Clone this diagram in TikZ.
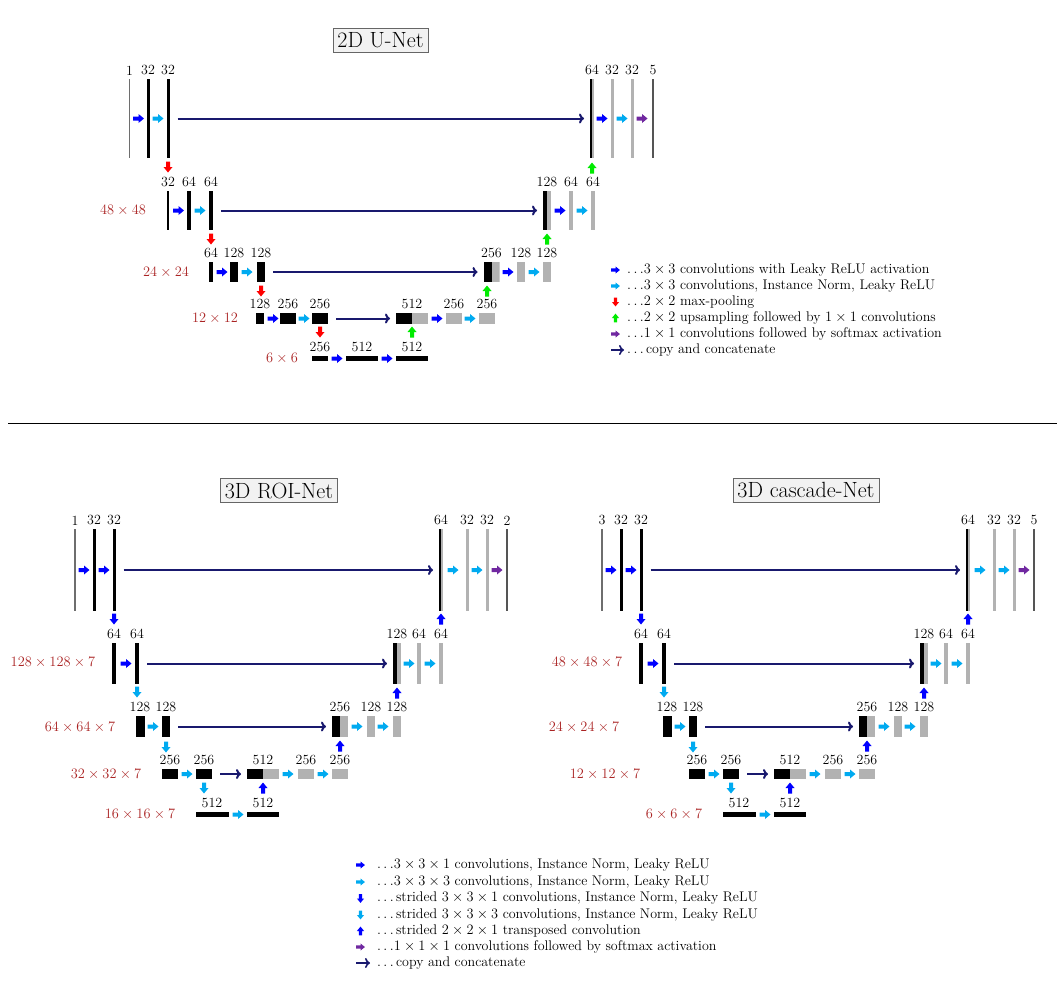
\documentclass[tikz,border=0pt]{standalone}
\usepackage{tikz}
\usetikzlibrary{arrows.meta}
\definecolor{cblue}{RGB}{0,0,255}
\definecolor{ccyan}{RGB}{0,170,240}
\definecolor{cred}{RGB}{255,0,0}
\definecolor{cgreen}{RGB}{0,235,0}
\definecolor{cpurple}{RGB}{112,40,160}
\definecolor{navy}{RGB}{25,25,110}
\definecolor{szred}{RGB}{170,35,35}
\definecolor{barGray}{RGB}{178,178,178}
\definecolor{thinGray}{RGB}{110,110,110}
\definecolor{darkGray}{RGB}{85,85,85}
\newcommand\numsize{\fontsize{14}{16}\selectfont}
\newcommand\titlesize{\fontsize{22}{26}\selectfont}
\newcommand\dts{$\ldots$}
\tikzset{
 lay/.style={rectangle, inner sep=0pt, outer sep=0pt, draw=none, minimum width=#1},
 blk/.style={lay=#1, fill=black},
 gry/.style={lay=#1, fill=barGray},
 inl/.style={lay=1.2pt, fill=thinGray},
 outl/.style={lay=1.4pt, fill=darkGray},
 cat/.style={lay=#1, path picture={
   \fill[black] (path picture bounding box.south west) rectangle (path picture bounding box.north);
   \fill[barGray] (path picture bounding box.south) rectangle (path picture bounding box.north east);}},
 ht/.style={minimum height=#1},
 num/.style={font=\numsize, inner sep=0pt},
 every label/.style={num},
 label distance=3.8pt,
 szl/.style={font=\numsize, text=szred, inner sep=0pt},
 cpy/.style={draw=navy, line width=2pt, -{To[length=5pt,width=10pt]}, shorten <=8pt, shorten >=6pt},
 ttl/.style={draw=gray!80!black, fill=gray!10, font=\titlesize, inner sep=4.5pt, line width=0.8pt},
 leg/.style={font=\numsize, anchor=west, inner sep=0pt},
 rarr/.pic={\fill (-5.5,-2) -- (0,-2) -- (0,-4.5) -- (5.5,0) -- (0,4.5) -- (0,2) -- (-5.5,2) -- cycle;},
 darr/.pic={\fill (-2,-5.5) -- (-2,0) -- (-4.5,0) -- (0,5.5) -- (4.5,0) -- (2,0) -- (2,-5.5) -- cycle;},
 uarr/.pic={\fill (-2,5.5) -- (-2,0) -- (-4.5,0) -- (0,-5.5) -- (4.5,0) -- (2,0) -- (2,5.5) -- cycle;},
}
\newcommand\threednet[5]{%
\begin{scope}[xshift=#2pt, name prefix=#1-]
\node[ttl] (ttl) at (279,490.5) {#3};
% level 0
\node[inl, ht=82pt, label=above:#4] (p1) at (75,570) {};
\node[blk=3pt, ht=82pt, label=above:32] (p2) at (94,570) {};
\node[blk=3pt, ht=82pt, label=above:32] (p3) at (114,570) {};
\node[cat=4pt, ht=82pt, label=above:64] (p4) at (441,570) {};
\node[gry=3pt, ht=82pt, label=above:32] (p5) at (467,570) {};
\node[gry=3pt, ht=82pt, label=above:32] (p6) at (487,570) {};
\node[outl, ht=82pt, label=above:#5] (p7) at (507,570) {};
\pic[cblue] at (84,570) {rarr};
\pic[cblue] at (104,570) {rarr};
\pic[ccyan] at (453,570) {rarr};
\pic[ccyan] at (477,570) {rarr};
\pic[cpurple] at (497,570) {rarr};
\draw[cpy] (p3) -- (p4);
\pic[cblue] at (114,619) {darr};
\pic[cblue] at (441,619) {uarr};
% level 1
\node[blk=4pt, ht=41pt, label=above:64] (q1) at (114,663.5) {};
\node[blk=4pt, ht=41pt, label=above:64] (q2) at (137,663.5) {};
\node[cat=8pt, ht=41pt, label=above:128] (q3) at (397,663.5) {};
\node[gry=4pt, ht=41pt, label=above:64] (q4) at (419,663.5) {};
\node[gry=4pt, ht=41pt, label=above:64] (q5) at (441,663.5) {};
\pic[cblue] at (126,663.5) {rarr};
\pic[ccyan] at (409,663.5) {rarr};
\pic[ccyan] at (430,663.5) {rarr};
\draw[cpy] (q2) -- (q3);
\pic[ccyan] at (137,692) {darr};
\pic[cblue] at (397,693) {uarr};
% level 2
\node[blk=9pt, ht=21pt, label=above:128] (s1) at (140,726.5) {};
\node[blk=8.5pt, ht=21pt, label=above:128] (s2) at (166,726.5) {};
\node[cat=16pt, ht=21pt, label=above:256] (s3) at (340,726.5) {};
\node[gry=8pt, ht=21pt, label=above:128] (s4) at (371,726.5) {};
\node[gry=8pt, ht=21pt, label=above:128] (s5) at (397,726.5) {};
\pic[ccyan] at (153,726.5) {rarr};
\pic[ccyan] at (357,726.5) {rarr};
\pic[ccyan] at (383,726.5) {rarr};
\draw[cpy] (s2) -- (s3);
\pic[ccyan] at (166,747) {darr};
\pic[cblue] at (340,746) {uarr};
% level 3
\node[blk=16pt, ht=10pt, label=above:256] (t1) at (170,774) {};
\node[blk=16pt, ht=10pt, label=above:256] (t2) at (204,774) {};
\node[cat=32pt, ht=10pt, label=above:512] (t3) at (263,774) {};
\node[gry=16pt, ht=10pt, label=above:256] (t4) at (306,774) {};
\node[gry=16pt, ht=10pt, label=above:256] (t5) at (340,774) {};
\pic[ccyan] at (187,774) {rarr};
\pic[ccyan] at (288,774) {rarr};
\pic[ccyan] at (323,774) {rarr};
\draw[cpy] (t2) -- (t3);
\pic[ccyan] at (204,788) {darr};
\pic[cblue] at (263,788) {uarr};
% level 4
\node[blk=33pt, ht=5pt, label=above:512] (u1) at (212,814.5) {};
\node[blk=32pt, ht=5pt, label=above:512] (u2) at (263,814.5) {};
\pic[ccyan] at (238,814.5) {rarr};
\end{scope}}
\begin{document}
\begin{tikzpicture}[x=1pt,y=-1pt]
\useasboundingbox (0,0) rectangle (1057,983);
% ================= 2D U-Net =================
\node[ttl] (t2d) at (380.5,40.5) {2D U-Net};
% level 0
\node[inl, ht=79pt, label=above:1] (a1) at (129.5,118.5) {};
\node[blk=3pt, ht=79pt, label=above:32] (a2) at (148,118.5) {};
\node[blk=3pt, ht=79pt, label=above:32] (a3) at (168,118.5) {};
\node[cat=4pt, ht=79pt, label=above:64] (a4) at (592,118.5) {};
\node[gry=3pt, ht=79pt, label=above:32] (a5) at (612,118.5) {};
\node[gry=3pt, ht=79pt, label=above:32] (a6) at (632,118.5) {};
\node[outl, ht=79pt, label=above:5] (a7) at (653,118.5) {};
\pic[cblue] at (138.5,118.5) {rarr};
\pic[ccyan] at (158,118.5) {rarr};
\pic[cblue] at (602,118.5) {rarr};
\pic[ccyan] at (622,118.5) {rarr};
\pic[cpurple] at (642,118.5) {rarr};
\draw[cpy] (a3) -- (a4);
\pic[cred] at (168,167) {darr};
\pic[cgreen] at (592,168) {uarr};
% level 1
\node[szl] (s48) at (123,210.5) {$48\times48$};
\node[blk=2.5pt, ht=39pt, label=above:32] (b1) at (168,210.5) {};
\node[blk=4pt, ht=39pt, label=above:64] (b2) at (189,210.5) {};
\node[blk=4pt, ht=39pt, label=above:64] (b3) at (211,210.5) {};
\node[cat=8pt, ht=39pt, label=above:128] (b4) at (547,210.5) {};
\node[gry=4pt, ht=39pt, label=above:64] (b5) at (571,210.5) {};
\node[gry=4pt, ht=39pt, label=above:64] (b6) at (593,210.5) {};
\pic[cblue] at (178.5,210.5) {rarr};
\pic[ccyan] at (200,210.5) {rarr};
\pic[cblue] at (560,210.5) {rarr};
\pic[ccyan] at (582,210.5) {rarr};
\draw[cpy] (b3) -- (b4);
\pic[cred] at (211,239) {darr};
\pic[cgreen] at (547,239) {uarr};
% level 2
\node[szl] (s24) at (166,272) {$24\times24$};
\node[blk=4pt, ht=20pt, label=above:64] (c1) at (211,272) {};
\node[blk=8.5pt, ht=20pt, label=above:128] (c2) at (234,272) {};
\node[blk=8.5pt, ht=20pt, label=above:128] (c3) at (261,272) {};
\node[cat=16pt, ht=20pt, label=above:256] (c4) at (491.5,272) {};
\node[gry=8pt, ht=20pt, label=above:128] (c5) at (521,272) {};
\node[gry=8pt, ht=20pt, label=above:128] (c6) at (547,272) {};
\pic[cblue] at (222,272) {rarr};
\pic[ccyan] at (247,272) {rarr};
\pic[cblue] at (508,272) {rarr};
\pic[ccyan] at (534,272) {rarr};
\draw[cpy] (c3) -- (c4);
\pic[cred] at (261,291) {darr};
\pic[cgreen] at (487,291) {uarr};
% level 3
\node[szl] (s12) at (215,318.5) {$12\times12$};
\node[blk=8.5pt, ht=11pt, label=above:128] (d1) at (260,318.5) {};
\node[blk=16pt, ht=11pt, label=above:256] (d2) at (288,318.5) {};
\node[blk=16pt, ht=11pt, label=above:256] (d3) at (320,318.5) {};
\node[cat=32pt, ht=11pt, label=above:512] (d4) at (412,318.5) {};
\node[gry=16pt, ht=11pt, label=above:256] (d5) at (454,318.5) {};
\node[gry=16pt, ht=11pt, label=above:256] (d6) at (487,318.5) {};
\pic[cblue] at (273,318.5) {rarr};
\pic[ccyan] at (304,318.5) {rarr};
\pic[cblue] at (437,318.5) {rarr};
\pic[ccyan] at (470,318.5) {rarr};
\draw[cpy] (d3) -- (d4);
\pic[cred] at (320,332) {darr};
\pic[cgreen] at (412,332) {uarr};
% level 4
\node[szl] (s6) at (282,358.5) {$6\times6$};
\node[blk=16pt, ht=5pt, label=above:256] (e1) at (320,358.5) {};
\node[blk=32pt, ht=5pt, label=above:512] (e2) at (362,358.5) {};
\node[blk=32pt, ht=5pt, label=above:512] (e3) at (412,358.5) {};
\pic[cblue] at (337,358.5) {rarr};
\pic[cblue] at (387,358.5) {rarr};
% legend 2D
\pic[cblue, scale=0.8] at (615.5,270) {rarr};
\pic[ccyan, scale=0.8] at (615.5,286) {rarr};
\pic[cred, scale=0.8] at (615.5,302) {darr};
\pic[cgreen, scale=0.8] at (615.5,318) {uarr};
\pic[cpurple, scale=0.8] at (615.5,334) {rarr};
\coordinate (la1) at (611,350);
\coordinate (la2) at (624,350);
\draw[cpy, line width=1.6pt, shorten <=0pt, shorten >=0pt] (la1) -- (la2);
\node[leg] (g1) at (627,270) {\dts$3\times3$ convolutions with Leaky ReLU activation};
\node[leg] (g2) at (627,286) {\dts$3\times3$ convolutions, Instance Norm, Leaky ReLU};
\node[leg] (g3) at (627,302) {\dts$2\times2$ max-pooling};
\node[leg] (g4) at (627,318) {\dts$2\times2$ upsampling followed by $1\times1$ convolutions};
\node[leg] (g5) at (627,334) {\dts$1\times1$ convolutions followed by softmax activation};
\node[leg] (g6) at (627,350) {\dts\,copy and concatenate};
% separator
\draw[line width=0.8pt] (8,423) -- (1057,423);
% ================= 3D nets =================
\threednet{r}{0}{3D ROI-Net}{1}{2}
\threednet{k}{527}{3D cascade-Net}{3}{5}
\node[szl] (r1) at (53,662) {$128\times128\times7$};
\node[szl] (r2) at (80,727) {$64\times64\times7$};
\node[szl] (r3) at (106,774) {$32\times32\times7$};
\node[szl] (r4) at (140,814) {$16\times16\times7$};
\node[szl] (k1) at (587,662) {$48\times48\times7$};
\node[szl] (k2) at (584,727) {$24\times24\times7$};
\node[szl] (k3) at (605,774) {$12\times12\times7$};
\node[szl] (k4) at (674,814) {$6\times6\times7$};
% legend 3D
\pic[cblue, scale=0.8] at (360.5,865) {rarr};
\pic[ccyan, scale=0.8] at (360.5,882) {rarr};
\pic[cblue, scale=0.8] at (360.5,898.5) {darr};
\pic[ccyan, scale=0.8] at (360.5,915) {darr};
\pic[cblue, scale=0.8] at (360.5,931) {uarr};
\pic[cpurple, scale=0.8] at (360.5,947) {rarr};
\coordinate (lb1) at (356,963);
\coordinate (lb2) at (370,963);
\draw[cpy, line width=1.6pt, shorten <=0pt, shorten >=0pt] (lb1) -- (lb2);
\node[leg] (h1) at (377,865) {\dts$3\times3\times1$ convolutions, Instance Norm, Leaky ReLU};
\node[leg] (h2) at (377,882) {\dts$3\times3\times3$ convolutions, Instance Norm, Leaky ReLU};
\node[leg] (h3) at (377,898.5) {\dts\,strided $3\times3\times1$ convolutions, Instance Norm, Leaky ReLU};
\node[leg] (h4) at (377,915) {\dts\,strided $3\times3\times3$ convolutions, Instance Norm, Leaky ReLU};
\node[leg] (h5) at (377,931) {\dts\,strided $2\times2\times1$ transposed convolution};
\node[leg] (h6) at (377,947) {\dts$1\times1\times1$ convolutions followed by softmax activation};
\node[leg] (h7) at (377,963) {\dts\,copy and concatenate};
\end{tikzpicture}
\end{document}
